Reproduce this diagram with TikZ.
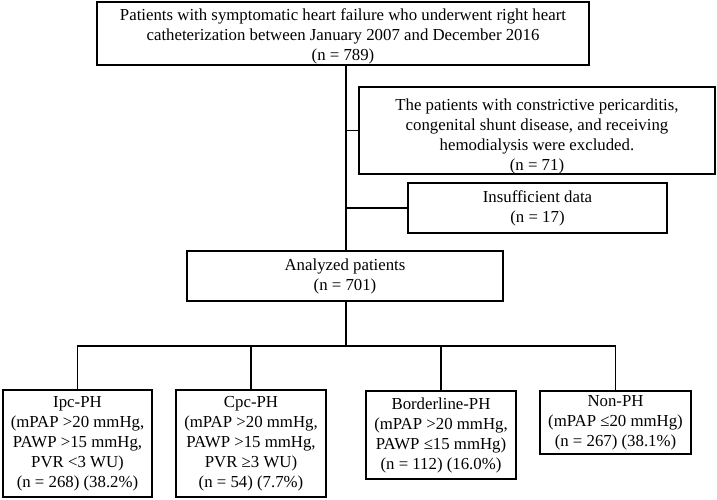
\documentclass[tikz,border=0pt]{standalone}
\usepackage{fontspec}
\setmainfont{Liberation Serif}
\begin{document}
\begin{tikzpicture}[x=1pt,y=-1pt,
  box/.style={draw, line width=1.6pt, align=center, inner sep=0pt,
    font=\fontsize{16.8}{20}\selectfont},
  conn/.style={line width=1.6pt}]
\useasboundingbox[fill=white] (0,0) rectangle (717,500);
\node[box, minimum width=492pt, minimum height=63pt] (top) at (343,33.5)
  {\rule{0pt}{17pt}Patients with symptomatic heart failure who underwent right heart\\catheterization between January 2007 and December 2016\\(n = 789)};
\node[box, minimum width=356pt, minimum height=87pt] (excl) at (537,130.5)
  {\rule{0pt}{24pt}The patients with constrictive pericarditis,\\congenital shunt disease, and receiving\\hemodialysis were excluded.\\(n = 71)};
\node[box, minimum width=259pt, minimum height=50pt] (ins) at (537.5,208)
  {Insufficient data\\(n = 17)};
\node[box, minimum width=316pt, minimum height=50pt] (an) at (345,276)
  {Analyzed patients\\(n = 701)};
\node[box, minimum width=149pt, minimum height=107pt] (ipc) at (77.5,443.5)
  {Ipc-PH\\(mPAP >20 mmHg,\\PAWP >15 mmHg,\\PVR <3 WU)\\(n = 268) (38.2\%)};
\node[box, minimum width=150pt, minimum height=107pt] (cpc) at (251,443.5)
  {Cpc-PH\\(mPAP >20 mmHg,\\PAWP >15 mmHg,\\PVR ≥3 WU)\\(n = 54) (7.7\%)};
\node[box, minimum width=150pt, minimum height=88pt] (bl) at (441,435)
  {Borderline-PH\\(mPAP >20 mmHg,\\PAWP ≤15 mmHg)\\(n = 112) (16.0\%)};
\node[box, minimum width=151pt, minimum height=63pt] (non) at (615.5,422.5)
  {Non-PH\\(mPAP ≤20 mmHg)\\(n = 267) (38.1\%)};
\coordinate (sp) at (346,0);
\coordinate (bar) at (346,346);
\draw[conn] (top.south -| sp) -- (an.north -| sp);
\draw[conn] (excl.west) -- (excl.west -| sp);
\draw[conn] (ins.west) -- (ins.west -| sp);
\draw[conn] (an.south -| sp) -- (bar);
\draw[conn] (ipc.north) -- (ipc.north |- bar) -- (non.north |- bar) -- (non.north);
\draw[conn] (cpc.north) -- (cpc.north |- bar);
\draw[conn] (bl.north) -- (bl.north |- bar);
\end{tikzpicture}
\end{document}
